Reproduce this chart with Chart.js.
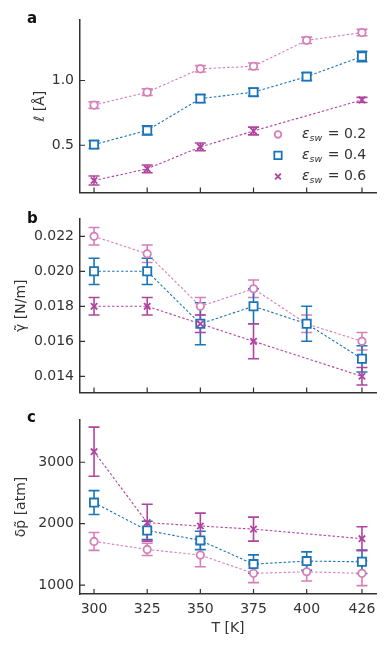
<!DOCTYPE html>
<html>
<head>
<meta charset="utf-8">
<script src="https://cdn.jsdelivr.net/npm/chart.js@4.4.0/dist/chart.umd.min.js"></script>
<style>
  html, body { margin: 0; padding: 0; background: #fff; }
  #wrap { position: relative; width: 388px; height: 649px; }
  canvas { position: absolute; left: 0; }
</style>
</head>
<body>
<div id="wrap">
  <canvas id="panelA" width="388" height="200" style="top:0px"></canvas>
  <canvas id="panelB" width="388" height="200" style="top:200px"></canvas>
  <canvas id="panelC" width="388" height="249" style="top:400px"></canvas>
</div>
<script>
// Temperatures (x values) and tick labels
const temps = [300, 325, 350, 375, 400, 426];
const xTicks = [300, 325, 350, 375, 400, 426];
const epsLabels = ['0.2', '0.4', '0.6'];

// Panel a: l [Å]
const lenEps02 = [0.81, 0.91, 1.09, 1.11, 1.31, 1.37];
const lenEps04 = [0.505, 0.615, 0.86, 0.91, 1.03, 1.185];
const lenEps06 = [0.228, 0.318, 0.487, 0.61, null, 0.85];
const lenErr02 = [0.025, 0.025, 0.025, 0.025, 0.025, 0.025];
const lenErr04 = [0.03, 0.035, 0.03, 0.03, 0.03, 0.04];
const lenErr06 = [0.035, 0.03, 0.03, 0.03, null, 0.02];
const lenTicks = [0.5, 1.0];

// Panel b: gamma [N/m]
const gamEps02 = [0.022, 0.021, 0.018, 0.019, 0.017, 0.016];
const gamEps04 = [0.020, 0.020, 0.017, 0.018, 0.017, 0.015];
const gamEps06 = [0.018, 0.018, 0.017, 0.016, null, 0.014];
const gamErr02 = [0.0005, 0.0005, 0.0005, 0.0005, 0.0005, 0.0005];
const gamErr04 = [0.00075, 0.00075, 0.0012, 0.001, 0.001, 0.00075];
const gamErr06 = [0.0005, 0.0005, 0.0005, 0.001, null, 0.0005];
const gamTicks = [0.014, 0.016, 0.018, 0.020, 0.022];

// Panel c: delta p [atm]
const dpEps02 = [1710, 1580, 1488, 1190, 1216, 1190];
const dpEps04 = [2343, 1889, 1727, 1341, 1390, 1379];
const dpEps06 = [3172, 2016, 1961, 1911, null, 1755];
const dpErr02 = [145, 100, 190, 150, 150, 200];
const dpErr04 = [195, 150, 150, 150, 150, 190];
const dpErr06 = [400, 300, 210, 195, null, 195];
const dpTicks = [1000, 2000, 3000];

const colors = ['#d67fb8', '#1a76b8', '#b0449f'];
const markers = ['circle', 'rect', 'crossRot'];
const markerRadius = [3.7, 5.8, 4.5];
const FONT = 'DejaVu Sans';
const INK = '#333';

function makeDataset(idx, vals, errs) {
  const pts = [];
  temps.forEach((t, k) => {
    if (vals[k] !== null) pts.push({ x: t, y: vals[k], e: errs[k] });
  });
  return {
    label: 'eps ' + epsLabels[idx],
    data: pts,
    borderColor: colors[idx],
    backgroundColor: '#fff',
    borderWidth: 1.1,
    borderDash: [2.5, 2],
    pointStyle: markers[idx],
    pointRadius: markerRadius[idx],
    pointBorderWidth: 1.8,
    pointBorderColor: colors[idx],
    pointBackgroundColor: '#fff',
    order: 2 - idx,
    tension: 0
  };
}

// error bars, inward ticks, panel letter, legend
function extrasPlugin(letter, letterY, withLegend) {
  return {
    id: 'extras' + letter,
    beforeDatasetsDraw(chart) {
      const ctx = chart.ctx;
      const xs = chart.scales.x, ys = chart.scales.y;
      ctx.save();
      chart.data.datasets.forEach(ds => {
        ctx.strokeStyle = ds.borderColor;
        ctx.lineWidth = 1.6;
        ds.data.forEach(p => {
          if (p.e == null) return;
          const px = xs.getPixelForValue(p.x);
          const top = ys.getPixelForValue(p.y + p.e);
          const bot = ys.getPixelForValue(p.y - p.e);
          ctx.beginPath();
          ctx.moveTo(px, top); ctx.lineTo(px, bot);
          ctx.moveTo(px - 5.5, top); ctx.lineTo(px + 5.5, top);
          ctx.moveTo(px - 5.5, bot); ctx.lineTo(px + 5.5, bot);
          ctx.stroke();
        });
      });
      ctx.restore();
    },
    afterDraw(chart) {
      const ctx = chart.ctx;
      const area = chart.chartArea;
      const xs = chart.scales.x, ys = chart.scales.y;
      ctx.save();
      ctx.strokeStyle = INK;
      ctx.lineWidth = 1.2;
      ctx.beginPath();
      xs.ticks.forEach(t => {
        const px = xs.getPixelForValue(t.value);
        ctx.moveTo(px, area.bottom); ctx.lineTo(px, area.bottom - 5);
      });
      ys.ticks.forEach(t => {
        const py = ys.getPixelForValue(t.value);
        ctx.moveTo(area.left, py); ctx.lineTo(area.left + 5, py);
      });
      ctx.stroke();

      ctx.fillStyle = '#111';
      ctx.font = 'bold 15px ' + FONT;
      ctx.textBaseline = 'alphabetic';
      ctx.fillText(letter, 27, letterY);

      if (withLegend) {
        const mx = area.right - 98, tx = area.right - 74;
        const rows = [area.bottom - 58, area.bottom - 37, area.bottom - 16];
        rows.forEach((ry, i) => {
          ctx.strokeStyle = colors[i];
          ctx.lineWidth = 1.8;
          ctx.fillStyle = '#fff';
          Chart.helpers.drawPoint(ctx, { pointStyle: markers[i], radius: markerRadius[i] * 0.9, borderWidth: 1.8 }, mx, ry);
          ctx.fillStyle = INK;
          ctx.textBaseline = 'middle';
          let x = tx;
          ctx.font = 'italic 14px ' + FONT;
          ctx.fillText('ε', x, ry);
          x += ctx.measureText('ε').width;
          ctx.font = 'italic 9.5px ' + FONT;
          ctx.fillText('sw', x, ry + 4);
          x += ctx.measureText('sw').width + 1;
          ctx.font = '14px ' + FONT;
          ctx.fillText(' = ' + epsLabels[i], x, ry);
        });
      }
      ctx.restore();
    }
  };
}

function makeChart(id, cfg) {
  const ys = {
    type: 'linear',
    min: cfg.yMin, max: cfg.yMax,
    afterBuildTicks: s => { s.ticks = cfg.yTicks.map(v => ({ value: v })); },
    afterFit: s => { s.width = 80; s.paddingTop = 0; s.paddingBottom = 0; },
    grid: { drawOnChartArea: false, drawTicks: false },
    border: { display: true, color: INK, width: 1.5 },
    ticks: {
      padding: 6, color: INK,
      font: { family: FONT, size: 14 },
      callback: v => v.toFixed(cfg.yDigits)
    },
    title: {
      display: true, text: cfg.yTitle, color: INK,
      font: { family: FONT, size: 14 },
      padding: { top: cfg.titlePad, bottom: 0 }
    }
  };
  const xs = {
    type: 'linear',
    min: 293.4, max: 432.6,
    afterBuildTicks: s => { s.ticks = xTicks.map(v => ({ value: v })); },
    afterFit: s => { s.height = cfg.xHeight; s.paddingLeft = 0; s.paddingRight = 0; },
    grid: { drawOnChartArea: false, drawTicks: false },
    border: { display: true, color: INK, width: 1.5 },
    ticks: {
      display: cfg.showX, padding: 7, color: INK, maxRotation: 0,
      font: { family: FONT, size: 14 },
      callback: v => String(v)
    },
    title: {
      display: cfg.showX, text: 'T [K]', color: INK,
      font: { family: FONT, size: 14 },
      padding: { top: 0, bottom: 12 }
    }
  };
  return new Chart(document.getElementById(id), {
    type: 'line',
    data: { datasets: cfg.datasets },
    options: {
      responsive: false,
      animation: false,
      layout: { padding: { top: cfg.padTop, right: 12, left: 0, bottom: 0 } },
      scales: { x: xs, y: ys },
      plugins: { legend: { display: false }, tooltip: { enabled: false } }
    },
    plugins: [extrasPlugin(cfg.letter, cfg.letterY, cfg.legend)]
  });
}

makeChart('panelA', {
  datasets: [makeDataset(0, lenEps02, lenErr02), makeDataset(1, lenEps04, lenErr04), makeDataset(2, lenEps06, lenErr06)],
  yMin: 0.136, yMax: 1.467, yTicks: lenTicks, yDigits: 1,
  yTitle: 'ℓ [Å]', titlePad: 32, padTop: 20, xHeight: 4, showX: false,
  letter: 'a', letterY: 23, legend: true
});

makeChart('panelB', {
  datasets: [makeDataset(0, gamEps02, gamErr02), makeDataset(1, gamEps04, gamErr04), makeDataset(2, gamEps06, gamErr06)],
  yMin: 0.01308, yMax: 0.02299, yTicks: gamTicks, yDigits: 3,
  yTitle: 'γ̃ [N/m]', titlePad: 13, padTop: 19, xHeight: 3, showX: false,
  letter: 'b', letterY: 23, legend: false
});

makeChart('panelC', {
  datasets: [makeDataset(0, dpEps02, dpErr02), makeDataset(1, dpEps04, dpErr04), makeDataset(2, dpEps06, dpErr06)],
  yMin: 854, yMax: 3688, yTicks: dpTicks, yDigits: 0,
  yTitle: 'δp̃ [atm]', titlePad: 13, padTop: 20, xHeight: 55, showX: true,
  letter: 'c', letterY: 22, legend: false
});
</script>
</body>
</html>
